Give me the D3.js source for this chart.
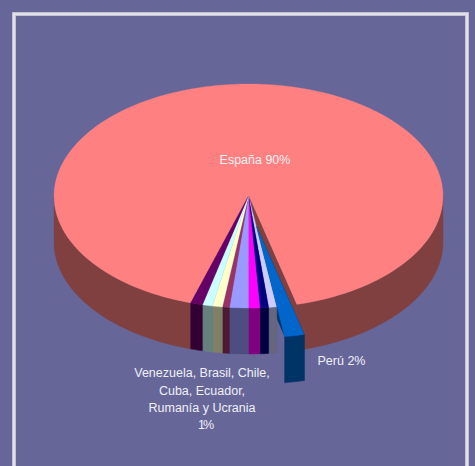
<!DOCTYPE html>
<html>
<head>
<meta charset="utf-8">
<style>html,body{margin:0;padding:0;background:#666699;overflow:hidden}svg{display:block}</style>
<script src="https://cdn.jsdelivr.net/npm/d3@7/dist/d3.min.js"></script>
</head>
<body>
<div id="chart"></div>
<script>
const categories = ["España","Perú","Lavanda","Azul","Magenta","Malva","Ciruela","Amarillo","Cian","Púrpura"];
const values = [91.23,1.64,0.67,0.72,0.94,1.56,0.58,0.83,0.83,1.0];
const topColors = ["#FF8080","#0066CC","#CCCCFF","#000080","#FF00FF","#9999FF","#993366","#FFFFCC","#CCFFFF","#660066"];
const sideColors = ["#804040","#003366","#666680","#000040","#800080","#4D4D80","#4D1933","#808066","#668080","#330033"];
const labelEspana = ["España 90%"];
const labelPeru = ["Perú 2%"];
const labelGroup = ["Venezuela, Brasil, Chile,","Cuba, Ecuador,","Rumanía y Ucrania","1%"];

const W = 475, H = 466;
const svg = d3.select("#chart").append("svg").attr("width",W).attr("height",H);
svg.append("rect").attr("width",W).attr("height",H).attr("fill","#666699");

// frame
svg.append("rect").attr("x",14).attr("y",14).attr("width",453).attr("height",520)
  .attr("fill","none").attr("stroke","#b5b3c9").attr("stroke-width",4);
svg.append("rect").attr("x",14).attr("y",14).attr("width",453).attr("height",520)
  .attr("fill","none").attr("stroke","#e2e1e8").attr("stroke-width",2.6);

const x = d3.scaleLinear().domain([-1,1]).range([54,443]);
const y = d3.scaleLinear().domain([-1,1]).range([84,308]);
const depth = 46;
const deg = Math.PI/180;
const arcs = d3.pie().sort(null).value(d=>d)
  .startAngle(197.3*deg).endAngle((197.3+360)*deg)(values)
  .map((a,i)=>({...a,i,ox:i===1?0.04:0,oy:i===1?0.268:0}));

function px(a,d){return x(d.ox+Math.sin(a));}
function py(a,d){return y(d.oy-Math.cos(a));}
function rimPts(d,a0,a1){
  const n=Math.max(2,Math.ceil((a1-a0)/(1.5*deg)));
  return d3.range(n+1).map(k=>{const a=a0+(a1-a0)*k/n;return [px(a,d),py(a,d)];});
}
const line = d3.line();
const g = svg.append("g");

function drawSide(d){
  for(const off of [0,2*Math.PI]){
    const a0=Math.max(d.startAngle,Math.PI/2+off), a1=Math.min(d.endAngle,3*Math.PI/2+off);
    if(a1>a0){
      const top=rimPts(d,a0,a1);
      const bot=top.map(p=>[p[0],p[1]+depth]).reverse();
      g.append("path").attr("d",line(top.concat(bot))+"Z").attr("fill",sideColors[d.i]).attr("stroke",sideColors[d.i]).attr("stroke-width",0.4);
    }
  }
}
function drawFace(d,a){
  const cx=x(d.ox),cy=y(d.oy),rx=px(a,d),ry=py(a,d);
  g.append("path").attr("d",line([[cx,cy],[rx,ry],[rx,ry+depth],[cx,cy+depth]])+"Z")
    .attr("fill",sideColors[d.i]).attr("stroke",sideColors[d.i]).attr("stroke-width",0.4);
}
function drawTop(d){
  const pts=[[x(d.ox),y(d.oy)]].concat(rimPts(d,d.startAngle,d.endAngle));
  g.append("path").attr("d",line(pts)+"Z").attr("fill",topColors[d.i]).attr("stroke",topColors[d.i]).attr("stroke-width",0.3);
}

const espana=arcs[0], peru=arcs[1], small=arcs.slice(2);
// back to front
drawSide(espana);
drawTop(espana);
drawFace(espana,espana.endAngle);
drawFace(peru,peru.startAngle);
small.forEach(drawSide);
small.forEach(drawTop);
drawSide(peru);
drawTop(peru);

const font="'Liberation Sans',Arial,sans-serif";
function label(lines,cx,ys){
  lines.forEach((t,i)=>{
    svg.append("text").attr("x",t==="1%"?cx+3:cx).attr("y",ys[i]).attr("text-anchor","middle")
      .attr("font-family",font).attr("font-size",12.5).attr("fill","#F0F0F6")
      .attr("letter-spacing",t==="1%"?-2:0).text(t);
  });
}
label(labelEspana,255,[164]);
label(labelPeru,341.5,[365]);
label(labelGroup,202,[377,395,412,429]);
</script>
</body>
</html>
